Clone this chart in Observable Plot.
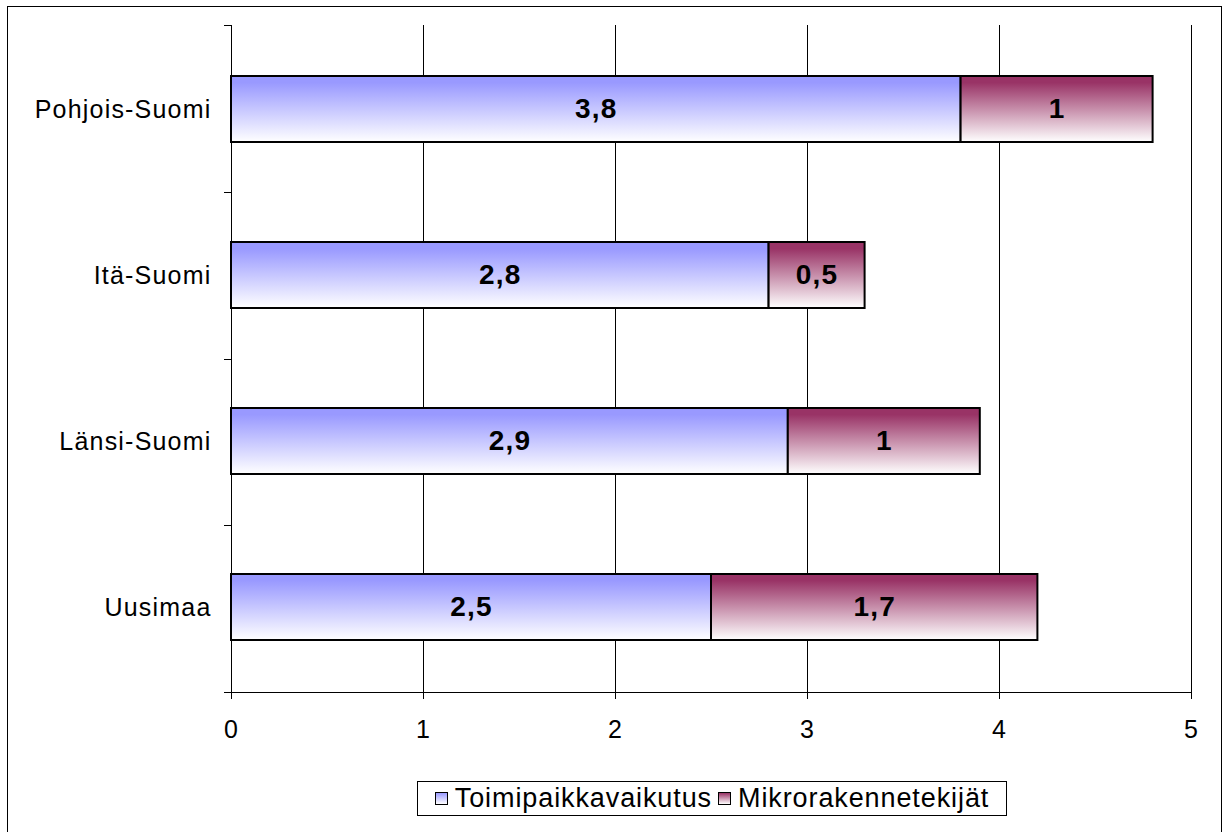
<!DOCTYPE html>
<html>
<head>
<meta charset="utf-8">
<script src="https://cdn.jsdelivr.net/npm/d3@7"></script>
<script src="https://cdn.jsdelivr.net/npm/@observablehq/plot@0.6"></script>
<style>
  body { margin: 0; background: #fff; font-family: "Liberation Sans", Arial, sans-serif; }
  #wrap { position: relative; width: 1228px; height: 832px; overflow: hidden; background: #fff; }
  #chart { position: absolute; left: 0; top: 0; }
  #frame { position: absolute; left: 7px; top: 6px; width: 1215px; height: 900px; border: 1px solid #000; box-sizing: border-box; pointer-events: none; }
  #legend { position: absolute; left: 417px; top: 781px; width: 590px; height: 35px; border: 1px solid #000; box-sizing: border-box;
            display: flex; align-items: center; justify-content: center; font-size: 27px; letter-spacing: 0.9px; color: #000; white-space: nowrap; }
  .item { display: flex; align-items: center; margin: 0 3px; }
  .sw { width: 13px; height: 13px; border: 1px solid #000; margin-right: 7px; box-sizing: border-box; }
  #chart svg text { letter-spacing: 1.2px; }
</style>
</head>
<body>
<div id="wrap">
  <div id="chart"></div>
  <div id="legend"></div>
  <div id="frame"></div>
</div>
<script>
const categories = ["Pohjois-Suomi", "Itä-Suomi", "Länsi-Suomi", "Uusimaa"];
const seriesNames = ["Toimipaikkavaikutus", "Mikrorakennetekijät"];
const toimipaikkavaikutus = [3.8, 2.8, 2.9, 2.5];
const mikrorakennetekijat = [1, 0.5, 1, 1.7];
const xTicks = [0, 1, 2, 3, 4, 5];
const seriesColors = ["#9999ff", "#993366"];

const seriesValues = [toimipaikkavaikutus, mikrorakennetekijat];
const data = categories.flatMap((c, i) =>
  seriesNames.map((s, j) => ({category: c, series: s, value: seriesValues[j][i]}))
);
const fmt = v => String(v).replace(".", ",");
const gradIds = seriesNames.map((s, j) => "grad" + j);

const chart = Plot.plot({
  width: 1228,
  height: 760,
  marginLeft: 231,
  marginRight: 37,
  marginTop: 25,
  marginBottom: 68,
  style: {fontFamily: '"Liberation Sans", Arial, sans-serif', fontSize: "25px", background: "transparent", color: "#000", overflow: "visible"},
  x: {domain: [0, 5], ticks: xTicks, tickSize: 7, tickPadding: 21, tickFormat: d => String(d), label: null},
  y: {domain: categories, paddingInner: 0.6, paddingOuter: 0.3, label: null, tickSize: 0, tickPadding: 20},
  color: {domain: seriesNames, range: gradIds.map(id => `url(#${id})`)},
  marks: [
    Plot.ruleX(xTicks, {stroke: "#000", strokeWidth: 1}),
    Plot.barX(data, {x: "value", y: "category", fill: "series", stroke: "#000", strokeWidth: 2}),
    Plot.text(data, Plot.stackX({x: "value", y: "category", z: "series", text: d => fmt(d.value), fontWeight: "bold", fontSize: 28, fill: "#000"}))
  ]
});

const svg = d3.select(chart);
const defs = svg.insert("defs", ":first-child");
seriesColors.forEach((col, j) => {
  const g = defs.append("linearGradient").attr("id", gradIds[j]).attr("x1", 0).attr("y1", 0).attr("x2", 0).attr("y2", 1);
  g.append("stop").attr("offset", 0).attr("stop-color", col);
  g.append("stop").attr("offset", 0.1).attr("stop-color", col);
  g.append("stop").attr("offset", 1).attr("stop-color", "#ffffff");
});

// Category boundary ticks and bottom axis line (Excel-style)
const xs = chart.scale("x");
const ys = chart.scale("y");
const [r0, r1] = ys.range;
const n = categories.length;
const x0 = xs.apply(0);
const x5 = xs.apply(xTicks[xTicks.length - 1]);
const axisG = svg.append("g").attr("stroke", "#000").attr("stroke-width", 1);
d3.range(n + 1).forEach(i => {
  const y = Math.round(r0 + i * (r1 - r0) / n) + 0.5;
  axisG.append("line").attr("x1", x0 - 7).attr("x2", x0).attr("y1", y).attr("y2", y);
});
axisG.append("line").attr("x1", x0 - 7).attr("x2", x5).attr("y1", Math.round(r1) + 0.5).attr("y2", Math.round(r1) + 0.5);

document.getElementById("chart").appendChild(chart);

// Legend
const legend = d3.select("#legend");
seriesNames.forEach((s, j) => {
  const it = legend.append("div").attr("class", "item");
  it.append("div").attr("class", "sw").style("background", `linear-gradient(${seriesColors[j]}, #ffffff)`);
  it.append("span").text(s);
});
</script>
</body>
</html>
